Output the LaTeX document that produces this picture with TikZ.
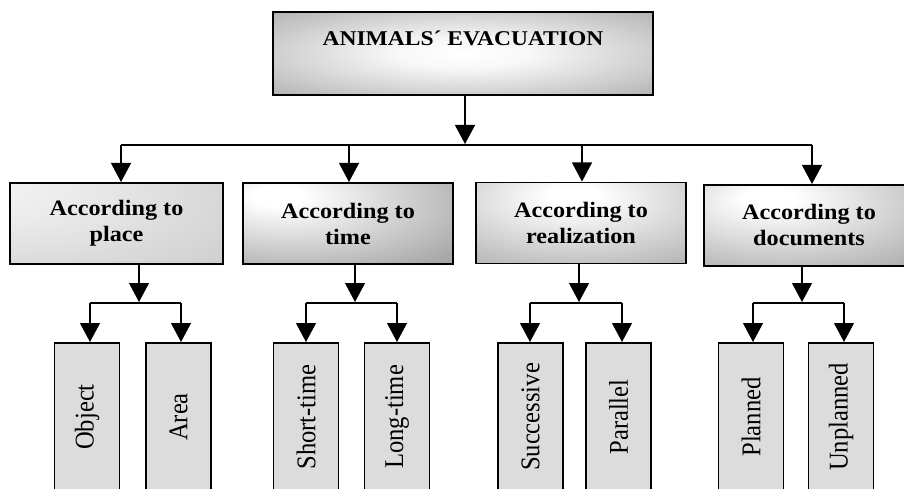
\documentclass[tikz,border=0pt]{standalone}
\usepackage{fontspec}
\usepackage{graphicx}
\setmainfont{Liberation Serif}
\usetikzlibrary{arrows.meta}
\definecolor{edgegray}{RGB}{168,168,168}
\definecolor{midgray}{RGB}{190,190,190}
\definecolor{leafgray}{RGB}{220,220,220}
\pgfdeclareradialshading{topshade}{\pgfpoint{0bp}{0bp}}{color(0bp)=(white); color(9bp)=(white!97!black); color(40bp)=(edgegray); color(100bp)=(edgegray)}
\pgfdeclareradialshading{shadeA}{\pgfpoint{-35bp}{25bp}}{color(0bp)=(white!96!black); color(20bp)=(white!92!black); color(80bp)=(midgray); color(120bp)=(midgray)}
\pgfdeclareradialshading{shadeB}{\pgfpoint{-18bp}{18bp}}{color(0bp)=(white); color(6bp)=(white); color(45bp)=(edgegray); color(100bp)=(edgegray)}
\pgfdeclareradialshading{shadeC}{\pgfpoint{-2bp}{18bp}}{color(0bp)=(white); color(6bp)=(white); color(50bp)=(edgegray); color(100bp)=(edgegray)}
\pgfdeclareradialshading{shadeD}{\pgfpoint{-10bp}{18bp}}{color(0bp)=(white); color(6bp)=(white); color(48bp)=(edgegray); color(100bp)=(edgegray)}
\newcommand\hst[1]{\scalebox{1.1}[1]{#1}}
\newcommand\vlab[1]{\rotatebox{90}{\scalebox{1}[1.1]{#1}}}
\begin{document}
\begin{tikzpicture}[x=1pt,y=-1pt,
  every node/.style={inner sep=0pt, outer sep=0pt},
  box/.style={draw=black, line width=1.3pt, rectangle},
  topbox/.style={box, shading=topshade, minimum width=380pt, minimum height=83pt},
  catbox/.style={box, minimum width=210pt, minimum height=81pt, align=center,
    font=\fontsize{22}{26}\selectfont\bfseries},
  leaf/.style={box, fill=leafgray, minimum width=65pt, minimum height=148pt, anchor=north,
    font=\fontsize{24.6}{28}\selectfont},
  conn/.style={line width=1.2pt},
  arr/.style={conn, shorten >=1pt, -{Triangle[width=20pt,length=19pt]}},
]
\useasboundingbox (0,0) rectangle (904,489);
\clip (0,0) rectangle (904,489);

% top
\node[topbox] (T) at (463,53.5) {};
\node[anchor=base, font=\fontsize{21}{25}\selectfont\bfseries] (Tt) at (463,45.5) {\scalebox{1.12}[1]{ANIMALS´ EVACUATION}};

% second level
\node[catbox, shading=shadeA, minimum width=213pt] (B1) at (116.5,223.5) {\hst{According to}\\\hst{place}};
\node[catbox, shading=shadeB] (B2) at (348,223.5) {\hst{According to}\\\hst{time}};
\node[catbox, shading=shadeC] (B3) at (581,223) {\hst{According to}\\\hst{realization}};
\node[catbox, shading=shadeD] (B4) at (809,225.5) {\hst{According to}\\\hst{documents}};

% leaves
\node[leaf] (L1) at (87,343) {\vlab{Object}};
\node[leaf] (L2) at (178.5,343) {\vlab{Area}};
\node[leaf] (L3) at (306,343) {\vlab{Short-time}};
\node[leaf] (L4) at (397,343) {\vlab{Long-time}};
\node[leaf] (L5) at (530.5,343) {\vlab{Successive}};
\node[leaf] (L6) at (618.5,343) {\vlab{Parallel}};
\node[leaf] (L7) at (751,343) {\vlab{Planned}};
\node[leaf] (L8) at (841,343) {\vlab{Unplanned}};

% top connectors
\coordinate (j0) at (465,145);
\coordinate (a1) at (121,145);
\coordinate (a2) at (349,145);
\coordinate (a3) at (582,145);
\coordinate (a4) at (812,145);
\draw[arr] (T.south -| j0) -- (j0);
\draw[conn] (a1) -- (a4);
\draw[arr] (a1) -- (a1 |- B1.north);
\draw[arr] (a2) -- (a2 |- B2.north);
\draw[arr] (a3) -- (a3 |- B3.north);
\draw[arr] (a4) -- (a4 |- B4.north);

% group connectors
\coordinate (c1) at (139,303);
\coordinate (c2) at (355,303);
\coordinate (c3) at (579,303);
\coordinate (c4) at (802,303);
\coordinate (p1) at (90,303);  \coordinate (q1) at (181,303);
\coordinate (p2) at (306,303); \coordinate (q2) at (397,303);
\coordinate (p3) at (530,303); \coordinate (q3) at (622,303);
\coordinate (p4) at (753,303); \coordinate (q4) at (844,303);

\draw[arr] (B1.south -| c1) -- (c1);
\draw[arr] (B2.south -| c2) -- (c2);
\draw[arr] (B3.south -| c3) -- (c3);
\draw[arr] (B4.south -| c4) -- (c4);
\draw[conn] (p1) -- (q1);
\draw[conn] (p2) -- (q2);
\draw[conn] (p3) -- (q3);
\draw[conn] (p4) -- (q4);
\draw[arr] (p1) -- (p1 |- L1.north);
\draw[arr] (q1) -- (q1 |- L2.north);
\draw[arr] (p2) -- (p2 |- L3.north);
\draw[arr] (q2) -- (q2 |- L4.north);
\draw[arr] (p3) -- (p3 |- L5.north);
\draw[arr] (q3) -- (q3 |- L6.north);
\draw[arr] (p4) -- (p4 |- L7.north);
\draw[arr] (q4) -- (q4 |- L8.north);
\end{tikzpicture}
\end{document}
